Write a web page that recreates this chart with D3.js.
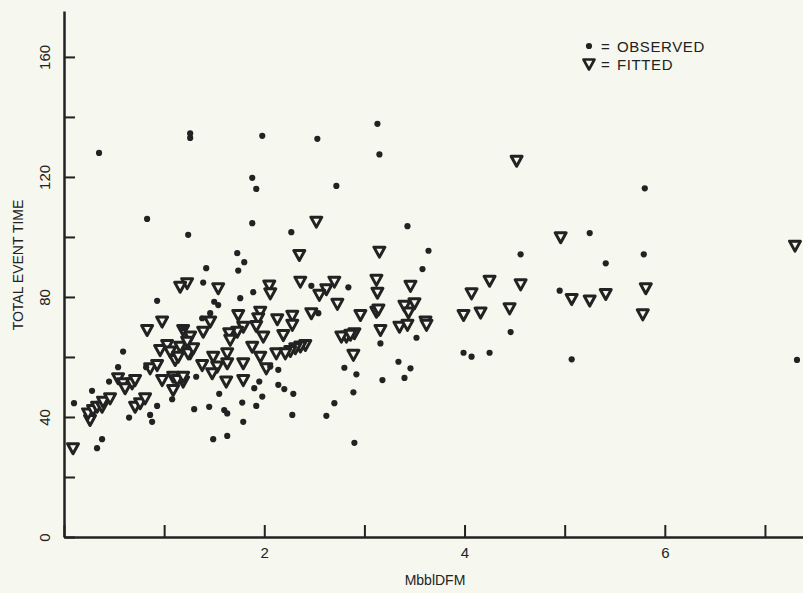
<!DOCTYPE html>
<html>
<head>
<meta charset="utf-8">
<script src="https://cdn.jsdelivr.net/npm/d3@7"></script>
<style>
  body { margin: 0; background: #f6f7ee; }
  svg { display: block; }
  text { font-family: "Liberation Sans", Arial, sans-serif; fill: #222; }
</style>
</head>
<body>
<div id="chart"></div>
<script>
// observed values [MbblDFM, total event time]
var observed = [
  [3.15,127.5],[3.13,137.7],[3.43,103.6],[3.64,95.4],[3.58,89.3],[4.56,94.2],[5.25,101.3],[5.41,91.2],
  [5.79,94.2],[5.80,116.2],[4.95,82.1],[4.46,68.3],[3.99,61.4],[4.07,60.1],[4.25,61.4],[5.07,59.2],
  [7.32,59],[3.52,66.4],[3.34,58.4],[3.46,56.2],[3.40,53],[3.16,64.5],
  [1.88,104.6],[1.24,100.7],[2.27,101.6],[1.73,94.6],[1.80,91.6],[1.74,88.8],[1.42,89.6],[1.39,84.8],
  [1.89,81.6],[1.76,79.6],[2.84,83.2],[2.47,83.7],[1.50,78.4],[1.54,77.3],[1.46,74.6],[1.38,72.9],
  [2.54,74.6],[2.80,56.4],[2.92,54.2],[3.18,52.3],[2.89,48.2],[2.70,44.6],[2.62,40.4],[2.90,31.4],
  [2.28,40.7],[2.29,47.7],[2.20,49.3],[2.14,50.7],[2.14,55.7],[2.06,56.8],[1.95,51.8],[1.90,49.6],
  [1.98,46.8],[1.92,43.7],[1.78,44.8],[1.79,38.4],[1.63,41.2],[1.60,42.3],[1.45,43.4],[1.30,42.6],
  [1.49,32.6],[1.63,33.7],[1.55,47.7],[1.32,53.4],
  [0.10,44.6],[0.33,29.6],[0.38,32.6],[0.28,48.7],[0.45,51.8],[0.54,56.6],[0.59,61.8],[0.65,39.8],
  [0.86,40.7],[0.88,38.4],[0.93,78.7],[0.93,43.7],[0.82,56.6],[1.08,45.9],[1.19,69.6],
  [0.35,128],[0.83,106],[1.26,134.5],[1.26,133],[1.98,133.7],[2.53,132.7],[1.88,119.7],[1.92,116],
  [2.72,117]
];

// fitted values
var fitted = [
  [4.52,125.4],[4.96,99.9],[7.30,97.1],[3.46,83.7],[3.40,77.1],[3.50,77.9],[3.44,74.8],[3.35,70.1],
  [3.43,70.7],[3.61,71.8],[3.62,70.7],[4.07,81.2],[4.25,85.4],[4.56,84.2],[3.99,74],[4.16,74.8],
  [4.45,76.2],[5.07,79.3],[5.25,78.8],[5.41,81],[5.81,82.9],[5.78,74.2],
  [2.52,105.1],[2.35,94],[3.15,95.1],[3.12,85.7],[3.13,81.4],[3.12,75.1],[3.14,75.8],[3.16,69],
  [2.96,74],[2.90,67.9],[2.82,66.8],[2.77,66.8],[2.86,67.4],[2.89,60.7],[2.73,77.7],[2.62,82.6],
  [2.55,80.7],[2.70,85.1],[2.36,85.1],[2.05,83.8],[2.06,81.2],[1.54,82.9],[1.23,84.6],[1.16,83.4],
  [2.47,74.6],[2.28,73.7],[2.28,70.7],[2.13,72.6],[2.19,67.3],
  [2.41,64],[2.36,63.5],[2.31,62.9],[2.26,62],[2.21,61.2],[2.12,61.2],
  [1.96,75.1],[1.94,72.9],[1.92,70.3],[1.74,74],[1.79,70.1],[1.73,68.4],[1.99,66.8],[1.88,63.4],
  [1.96,60.1],[1.79,57.9],[1.65,67.9],[1.66,65.7],[1.63,61.2],[1.63,57.9],[1.62,51.8],[1.79,52.3],
  [1.49,60.1],[1.53,56.8],[1.38,57.3],[1.48,54.6],[1.46,71.8],[1.39,68.4],[1.26,66.8],[1.19,69],
  [1.16,63.4],[1.19,51.8],[1.26,61.2],[2.02,56.2],
  [0.09,29.6],[0.26,39],[0.24,41.2],[0.29,42.3],[0.33,43.4],[0.38,43.4],[0.39,45.1],[0.46,46.2],
  [0.54,52.9],[0.59,51.2],[0.61,49.6],[0.68,51.2],[0.71,52.3],[0.71,43.4],[0.76,44.6],[0.81,46.2],
  [0.83,69],[0.98,71.8],[0.86,56.2],[0.93,57.3],[0.98,52.3],[0.96,62.3],[1.03,64],[1.06,61.8],
  [1.11,59],[1.14,60.1],[1.09,53.4],[1.13,52.3],[1.19,53.4],[1.09,49],[1.24,61.2],[1.29,62.9],
  [1.23,65.1]
];

var xTicks = [0, 1, 2, 3, 4, 5, 6, 7];
var xLabels = [2, 4, 6];
var yTicks = [0, 20, 40, 60, 80, 100, 120, 140, 160];
var yLabels = [0, 40, 80, 120, 160];
var legendItems = ["OBSERVED", "FITTED"];

var width = 803, height = 593;
var ink = "#222", paper = "#f6f7ee";

var svg = d3.select("#chart").append("svg")
    .attr("width", width)
    .attr("height", height);

var x = d3.scaleLinear().domain([0, 7.38]).range([64, 803]);
var y = d3.scaleLinear().domain([0, 175.3]).range([537, 11]);

// y axis, ticks point inward
var yAxis = svg.append("g")
    .attr("transform", "translate(64,0)")
    .call(d3.axisLeft(y)
      .tickValues(yTicks)
      .tickSizeInner(-11)
      .tickSizeOuter(0)
      .tickFormat(function(d) { return yLabels.indexOf(d) >= 0 ? d : ""; }));
yAxis.select(".domain").attr("stroke", ink).attr("stroke-width", 2.5);
yAxis.selectAll(".tick line").attr("stroke", ink).attr("stroke-width", 2);
yAxis.selectAll(".tick text")
    .attr("x", 0)
    .attr("y", -19)
    .attr("dy", "0.35em")
    .attr("text-anchor", "middle")
    .attr("transform", "rotate(-90)")
    .style("font-size", "15px")
    .style("fill", ink);

// x axis
var xAxis = svg.append("g")
    .attr("transform", "translate(0,537)")
    .call(d3.axisBottom(x)
      .tickValues(xTicks)
      .tickSizeInner(-12)
      .tickSizeOuter(0)
      .tickPadding(10)
      .tickFormat(function(d) { return xLabels.indexOf(d) >= 0 ? d : ""; }));
xAxis.select(".domain").attr("stroke", ink).attr("stroke-width", 2.5);
xAxis.selectAll(".tick line").attr("stroke", ink).attr("stroke-width", 2);
xAxis.selectAll(".tick text").style("font-size", "15px").style("fill", ink);

// axis titles
svg.append("text")
    .attr("x", 435).attr("y", 585)
    .attr("text-anchor", "middle")
    .style("font-size", "14px")
    .text("MbblDFM");

svg.append("text")
    .attr("transform", "translate(23,265) rotate(-90)")
    .attr("text-anchor", "middle")
    .style("font-size", "14px")
    .text("TOTAL EVENT TIME");

// triangle marker
var tri = "M-5.5,-4.5L5.5,-4.5L0,5.5Z";

svg.append("g").selectAll("path")
    .data(fitted)
  .enter().append("path")
    .attr("d", tri)
    .attr("transform", function(d) { return "translate(" + x(d[0]) + "," + y(d[1]) + ")"; })
    .attr("fill", paper)
    .attr("stroke", ink)
    .attr("stroke-width", 3)
    .attr("stroke-linejoin", "round");

svg.append("g").selectAll("circle")
    .data(observed)
  .enter().append("circle")
    .attr("cx", function(d) { return x(d[0]); })
    .attr("cy", function(d) { return y(d[1]); })
    .attr("r", 3.1)
    .attr("fill", ink);

// legend
var legend = svg.append("g");
legend.append("circle").attr("cx", 589).attr("cy", 46).attr("r", 3.1).attr("fill", ink);
legend.append("path").attr("d", tri).attr("transform", "translate(589,64)")
    .attr("fill", paper).attr("stroke", ink).attr("stroke-width", 2.6).attr("stroke-linejoin", "round");
legend.selectAll("text.eq")
    .data(legendItems)
  .enter().append("text")
    .attr("class", "eq")
    .attr("x", 601).attr("y", function(d, i) { return 52 + i * 18; })
    .style("font-size", "15px")
    .text("=");
legend.selectAll("text.lab")
    .data(legendItems)
  .enter().append("text")
    .attr("class", "lab")
    .attr("x", 617).attr("y", function(d, i) { return 52 + i * 18; })
    .style("font-size", "15px")
    .style("letter-spacing", "0.6px")
    .text(function(d) { return d; });
</script>
</body>
</html>
